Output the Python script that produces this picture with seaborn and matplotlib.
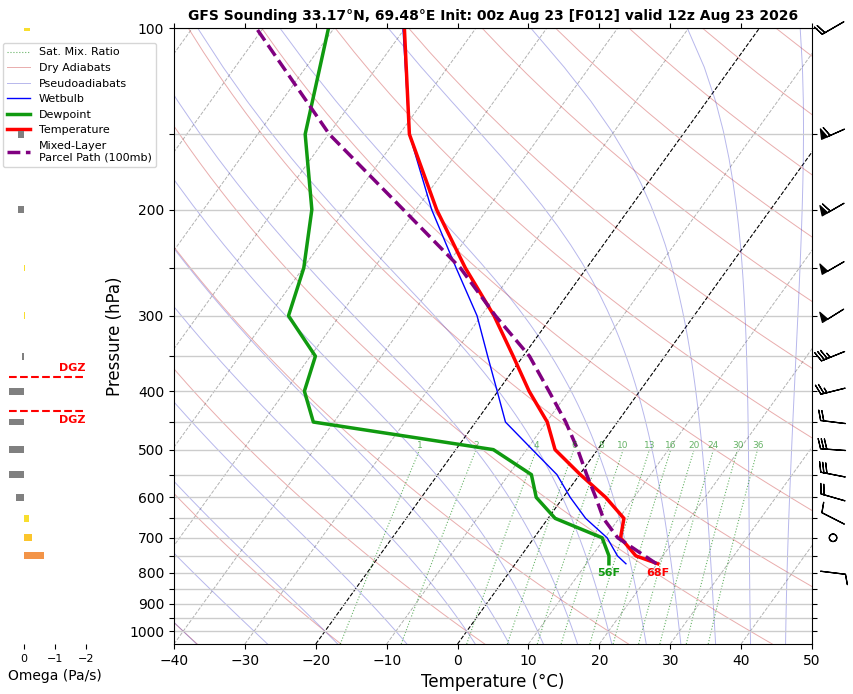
import numpy as np
import seaborn as sns
import matplotlib
matplotlib.use("Agg")
import matplotlib.pyplot as plt
from matplotlib import transforms
from matplotlib.colors import ListedColormap, BoundaryNorm
from matplotlib.ticker import NullLocator

# sounding (hPa, degC)
pressure = [773, 750, 700, 650, 600, 550, 500, 450, 400, 350, 300, 250, 200, 150, 100]
temperature = [20.1, 16.2, 12.2, 10.7, 6.0, 0.1, -6.0, -9.9, -15.6, -21.4, -28.2, -37.1, -47.1, -58.6, -70.1]
dewpoint = [13.2, 12.4, 9.6, 1.0, -3.8, -6.8, -14.7, -42.9, -47.3, -49.3, -57.2, -59.9, -64.7, -73.3, -80.8]
wetbulb = [15.6, 13.6, 10.3, 5.3, 1.0, -3.2, -9.2, -15.8, -20.1, -25.0, -30.6, -38.4, -47.8, -58.6, -70.3]

parcel_pressure = [773, 700, 650, 600, 550, 500, 450, 400, 350, 300, 250, 200, 150, 100]
parcel_temperature = [19.9, 11.8, 7.8, 4.6, 1.0, -2.8, -7.3, -12.8, -19.1, -28.0, -37.8, -51.8, -69.9, -91.0]

# winds (kt, direction from)
wind_pressure = [100, 150, 200, 250, 300, 350, 400, 450, 500, 550, 600, 650, 700, 800]
wind_speed = [20, 60, 60, 50, 50, 35, 25, 20, 30, 30, 20, 10, 0, 10]
wind_direction = [240, 246, 240, 240, 238, 248, 256, 277, 274, 281, 286, 297, 0, 97]

# omega (Pa/s)
omega_pressure = [100, 150, 200, 250, 300, 350, 400, 450, 500, 550, 600, 650, 700, 750]
omega = [-0.2, 0.2, 0.2, -0.03, -0.03, 0.05, 0.5, 0.5, 0.5, 0.5, 0.26, -0.16, -0.26, -0.65]

mixing_ratios = [1, 2, 4, 6, 8, 10, 13, 16, 20, 24, 30, 36]  # g/kg

title = "GFS Sounding 33.17°N, 69.48°E Init: 00z Aug 23 [F012] valid 12z Aug 23 2026"

P_BOT, P_TOP = 1050, 100
SKEW = 61.3  # degC shift per decade of pressure


def skew(t, p):
    return np.asarray(t, float) + SKEW * np.log10(P_BOT / np.asarray(p, float))


def sat_vp(tc):
    return 6.112 * np.exp(17.67 * tc / (tc + 243.5))


def dtdp(p, tk):
    es = sat_vp(tk - 273.15)
    rs = 0.622 * es / (p - es)
    num = 287.04 * tk + 2.501e6 * rs
    den = 1005.7 + 2.501e6 ** 2 * rs * 0.622 / (287.04 * tk ** 2)
    return num / den / p


def moist_lapse(t0c, p_targets, p_ref=1000.0):
    out = np.empty((len(t0c), len(p_targets)))
    for j, pt in enumerate(p_targets):
        n = max(int(abs(pt - p_ref) / 2) + 1, 1)
        h = (pt - p_ref) / n
        t = np.asarray(t0c, float) + 273.15
        p = p_ref
        for _ in range(n):
            k1 = dtdp(p, t)
            k2 = dtdp(p + h / 2, t + h / 2 * k1)
            k3 = dtdp(p + h / 2, t + h / 2 * k2)
            k4 = dtdp(p + h, t + h * k3)
            t = t + h / 6 * (k1 + 2 * k2 + 2 * k3 + k4)
            p += h
        out[:, j] = t - 273.15
    return out


fig = plt.figure(figsize=(8.54, 6.94), dpi=100)
ax = fig.add_axes([174 / 854, 50 / 694, 638 / 854, 616 / 694])

p_line = np.linspace(P_BOT, P_TOP, 100)

# isotherms
for t in range(-160, 51, 10):
    special = t in (0, -20)
    ax.plot(skew(np.full_like(p_line, t), p_line), p_line,
            ls="--", lw=0.8 if special else 0.7,
            color="black" if special else "gray", alpha=1 if special else 0.6, zorder=1)

# dry adiabats
dry_handle = None
for t0 in np.arange(-40, 261, 20):
    tk = (t0 + 273.15) * (p_line / 1000.0) ** 0.2857 - 273.15
    ln, = ax.plot(skew(tk, p_line), p_line, color="#c83232", lw=0.7, alpha=0.4, zorder=1)
    dry_handle = dry_handle or ln

# pseudoadiabats
moist_t0 = np.concatenate((np.arange(-40, 0, 10), np.arange(0, 51, 5)))
p_moist = np.linspace(P_BOT, P_TOP, 60)
moist = moist_lapse(moist_t0, p_moist)
moist_handle = None
for row in moist:
    ln, = ax.plot(skew(row, p_moist), p_moist, color="#3232c8", lw=0.7, alpha=0.35, zorder=1)
    moist_handle = moist_handle or ln

# saturation mixing ratio lines
p_mix = np.linspace(P_BOT, 500, 40)
mix_handle = None
for w in mixing_ratios:
    e = p_mix * w / (622.0 + w)
    lg = np.log(e / 6.112)
    td = 243.5 * lg / (17.67 - lg)
    ln, = ax.plot(skew(td, p_mix), p_mix, color="green", ls=":", lw=0.8, alpha=0.6, zorder=1)
    mix_handle = mix_handle or ln
    ax.text(skew(td[-1], 500), 500, f"{w}", color="green", alpha=0.6, fontsize=6.5,
            ha="center", va="bottom")

# profiles
sns.lineplot(x=skew(wetbulb, pressure), y=pressure, sort=False, estimator=None,
             color="blue", lw=1, ax=ax)
wb_handle = ax.lines[-1]
sns.lineplot(x=skew(dewpoint, pressure), y=pressure, sort=False, estimator=None,
             color="#109a10", lw=2.5, ax=ax)
td_handle = ax.lines[-1]
sns.lineplot(x=skew(temperature, pressure), y=pressure, sort=False, estimator=None,
             color="red", lw=2.5, ax=ax)
t_handle = ax.lines[-1]
sns.lineplot(x=skew(parcel_temperature, parcel_pressure), y=parcel_pressure, sort=False,
             estimator=None, color="purple", lw=2.5, ls="--", ax=ax)
parcel_handle = ax.lines[-1]

# surface labels
t_f = temperature[0] * 9 / 5 + 32
td_f = dewpoint[0] * 9 / 5 + 32
ax.annotate(f"{t_f:.0f}F", (skew(temperature[0], pressure[0]), pressure[0]),
            xytext=(0, -3), textcoords="offset points", ha="center", va="top",
            color="red", fontsize=8, fontweight="bold")
ax.annotate(f"{td_f:.0f}F", (skew(dewpoint[0], pressure[0]), pressure[0]),
            xytext=(0, -3), textcoords="offset points", ha="center", va="top",
            color="#109a10", fontsize=8, fontweight="bold")

# wind barbs to the right of the axes
wd = np.deg2rad(wind_direction)
u = -np.asarray(wind_speed) * np.sin(wd)
v = -np.asarray(wind_speed) * np.cos(wd)
bt = transforms.blended_transform_factory(ax.transAxes, ax.transData)
ax.barbs(np.full(len(wind_pressure), 1.033), wind_pressure, u, v, transform=bt,
         clip_on=False, length=6, pivot="middle", lw=0.9, color="black")

ax.set_yscale("log")
ax.set_ylim(P_BOT, P_TOP)
ax.set_xlim(-40, 50)
levels = list(range(100, 1001, 50))
ax.set_yticks(levels, labels=[str(l) if l % 100 == 0 else "" for l in levels])
ax.yaxis.set_minor_locator(NullLocator())
ax.set_xticks(range(-40, 51, 10))
ax.yaxis.grid(True, color="0.8", lw=1)
ax.tick_params(top=True, right=True, labelsize=10)
ax.set_xlabel("Temperature (°C)", fontsize=12)
ax.set_ylabel("Pressure (hPa)", fontsize=12)
ax.set_title(title, fontsize=10, fontweight="bold")

ax.legend([mix_handle, dry_handle, moist_handle, wb_handle, td_handle, t_handle, parcel_handle],
          ["Sat. Mix. Ratio", "Dry Adiabats", "Pseudoadiabats", "Wetbulb", "Dewpoint",
           "Temperature", "Mixed-Layer\nParcel Path (100mb)"],
          loc="upper left", bbox_to_anchor=(3 / 854, 1 - 43 / 694), bbox_transform=fig.transFigure,
          borderaxespad=0, fontsize=8)

# omega panel
ax2 = fig.add_axes([8.5 / 854, 50 / 694, 93 / 854, 616 / 694])
ax2.set_facecolor("none")
cmap = ListedColormap(["#f8de2e", "#fbc52c", "#f39448"])
norm = BoundaryNorm([0, 0.25, 0.5, 1.0], cmap.N)
colors = ["gray" if w > 0 else cmap(norm(-w)) for w in omega]
ax2.barh(omega_pressure, omega, height=np.asarray(omega_pressure) * 0.026, color=colors)
ax2.set_yscale("log")
ax2.set_ylim(P_BOT, P_TOP)
ax2.set_xlim(0.5, -2.5)
ax2.set_yticks([])
ax2.yaxis.set_minor_locator(NullLocator())
ax2.set_xticks([0, -1, -2])
ax2.tick_params(axis="x", labelsize=8)
for s in ax2.spines.values():
    s.set_visible(False)
ax2.set_xlabel("Omega (Pa/s)", fontsize=10)

# dendritic growth zone (-18 to -12 degC) from the temperature profile
logp = np.log(pressure)[::-1]
tt = np.asarray(temperature)[::-1]
p_dgz = [np.exp(np.interp(lvl, tt, logp)) for lvl in (-18, -12)]
for pz, va in zip(p_dgz, ("bottom", "top")):
    ax2.plot([0.5, -2], [pz, pz], color="red", ls="--", lw=1.5)
    ax2.text(-2, pz * (0.985 if va == "bottom" else 1.015), "DGZ", color="red",
             fontweight="bold", fontsize=8, ha="right", va=va)

fig.savefig("out.png", dpi=100)
